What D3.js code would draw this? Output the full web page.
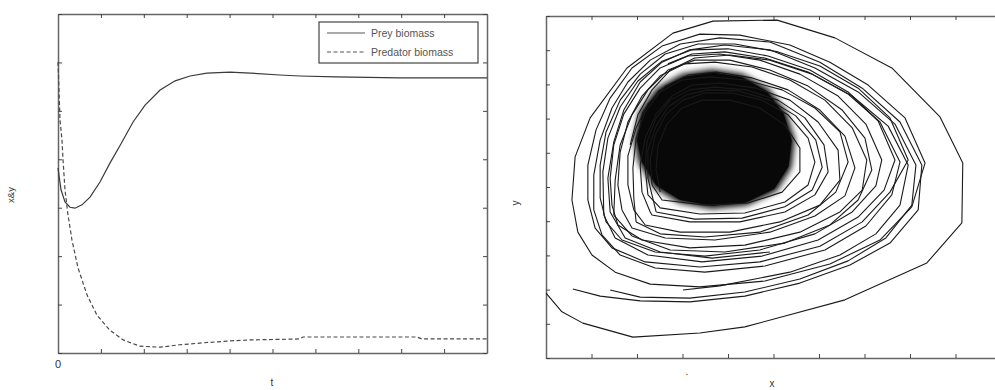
<!DOCTYPE html>
<html>
<head>
<meta charset="utf-8">
<script src="https://cdn.jsdelivr.net/npm/d3@7"></script>
<style>
  body { margin: 0; background: #fff; }
  svg { font-family: "Liberation Sans", Arial, sans-serif; }
  .frame path.domain { stroke: #666; stroke-width: 1.5; }
  .frame .tick line { stroke: #444; stroke-width: 1; }
</style>
</head>
<body>
<svg id="chart" width="995" height="390"></svg>
<script>
// ---- left panel: biomass over time ----
const preyT = [0, 0.7, 1.63, 2.8, 3.96, 5.59, 7.46, 9.79, 12.1, 14.5, 17.5, 20.3, 23.8, 27.3, 30.8, 34.7, 40.1, 44.8, 51.7, 56.4, 64.6, 79.7, 100];
const preyY = [3.82, 3.37, 3.12, 3.01, 2.99, 3.06, 3.22, 3.53, 3.92, 4.29, 4.77, 5.12, 5.43, 5.62, 5.72, 5.78, 5.80, 5.78, 5.74, 5.72, 5.70, 5.68, 5.68];
const predT = [0, 0.23, 0.47, 0.93, 1.17, 1.63, 2.33, 3.26, 4.66, 6.76, 9.09, 12.1, 15.2, 19.1, 23.8, 28.4, 33.8, 40.1, 44.8, 56.4, 57.1, 83.7, 84.8, 100];
const predY = [6.01, 5.43, 4.81, 4.40, 3.99, 3.37, 2.85, 2.33, 1.76, 1.20, 0.78, 0.47, 0.27, 0.14, 0.12, 0.17, 0.21, 0.25, 0.27, 0.29, 0.33, 0.33, 0.29, 0.29];
const legendLabels = ['Prey biomass', 'Predator biomass'];

// ---- right panel: phase portrait (x = prey, y = predator) ----
const loop1 = [[0,1.90],[0.35,1.35],[0.81,1.02],[1.91,0.61],[3.38,0.73],[4.37,0.91],[6.57,1.70],[8.37,2.78],[9.14,3.95],[9.16,5.70],[8.66,7.05],[7.60,8.48],[6.35,9.36],[5.08,9.88],[3.67,9.85],[2.79,9.50],[1.78,8.48],[0.97,7.02],[0.64,5.88],[0.57,4.62]];
const loop2 = [[0.57,4.62],[0.70,3.68],[1.01,3.01],[1.52,2.51],[2.29,2.16],[3.38,2.08],[4.81,2.25],[6.24,2.75],[7.34,3.45],[8.04,4.42],[8.33,5.70],[7.89,7.02],[7.08,7.98],[6.24,8.65],[5.36,9.15],[4.26,9.44],[3.38,9.47],[2.55,9.12],[1.89,8.48],[1.41,7.60],[1.10,6.67],[0.92,5.64],[0.92,4.62]];
const loop3 = [[0.92,4.62],[1.08,3.80],[1.45,3.22],[2.18,2.81],[3.38,2.66],[4.70,2.81],[6.02,3.27],[6.95,3.98],[7.56,4.85],[7.96,5.79],[7.56,7.02],[6.86,7.89],[6.02,8.54],[5.10,8.95],[4.15,9.18],[3.34,9.18],[2.62,8.89],[2.07,8.30],[1.63,7.54],[1.32,6.61],[1.19,5.64],[1.19,4.68]];
const loop3b = [[1.27,4.18],[1.52,3.51],[2.24,3.01],[3.43,2.81],[4.75,2.98],[5.98,3.45],[6.86,4.12],[7.43,4.91],[7.67,5.79],[7.30,6.93],[6.64,7.78],[5.80,8.42],[4.88,8.83],[4.00,9.04],[3.21,9.01],[2.55,8.68],[2.02,8.10],[1.63,7.34],[1.36,6.43],[1.25,5.44],[1.27,4.18]];
const loop4 = [[1.19,4.68],[1.32,3.98],[1.67,3.45],[2.40,3.10],[3.49,2.98],[4.70,3.16],[5.91,3.63],[6.73,4.27],[7.25,5.03],[7.38,5.79],[7.03,6.84],[6.42,7.66],[5.58,8.30],[4.70,8.71],[3.82,8.89],[3.12,8.83],[2.51,8.48],[2.07,7.89],[1.71,7.13],[1.49,6.23],[1.41,5.26],[1.45,4.47]];
const loop4b = [[1.49,4.18],[1.89,3.57],[2.73,3.16],[3.93,3.10],[5.25,3.36],[6.24,3.89],[6.86,4.62],[7.16,5.50],[7.01,6.43],[6.51,7.25],[5.76,7.95],[4.92,8.42],[4.04,8.71],[3.27,8.71],[2.68,8.42],[2.24,7.84],[1.89,7.11],[1.63,6.23],[1.52,5.20],[1.49,4.18]];
const loop5 = [[1.45,4.47],[1.58,3.89],[2.11,3.45],[3.16,3.22],[4.37,3.30],[5.58,3.68],[6.46,4.27],[6.95,4.91],[7.05,5.79],[6.73,6.73],[6.13,7.54],[5.36,8.13],[4.53,8.51],[3.71,8.65],[3.05,8.60],[2.51,8.25],[2.11,7.66],[1.80,6.90],[1.63,6.02],[1.58,5.06],[1.67,4.33]];
const loop6 = [[1.67,4.33],[1.89,3.80],[2.62,3.51],[3.71,3.45],[4.92,3.68],[5.91,4.15],[6.57,4.74],[6.79,5.56],[6.57,6.49],[6.02,7.25],[5.32,7.84],[4.53,8.19],[3.74,8.36],[3.12,8.27],[2.62,7.95],[2.24,7.43],[1.98,6.73],[1.80,5.91],[1.80,5.06],[1.93,4.33]];
const loop6b = [[1.98,3.98],[2.51,3.63],[3.49,3.54],[4.70,3.68],[5.76,4.18],[6.37,4.85],[6.64,5.73],[6.46,6.61],[5.91,7.31],[5.19,7.84],[4.37,8.13],[3.60,8.22],[2.99,8.13],[2.51,7.78],[2.18,7.19],[1.98,6.43],[1.91,5.56],[1.93,4.68],[1.98,3.98]];
const loop7 = [[1.93,4.33],[2.18,3.89],[2.95,3.68],[4.04,3.68],[5.14,3.98],[6.02,4.47],[6.46,5.20],[6.42,6.08],[5.98,6.90],[5.36,7.54],[4.62,7.89],[3.82,8.04],[3.21,7.98],[2.77,7.66],[2.42,7.13],[2.18,6.43],[2.07,5.64],[2.11,4.85],[2.29,4.27]];
const loop8 = [[2.29,4.27],[2.33,4.18],[3.16,3.98],[4.26,3.98],[5.25,4.27],[5.91,4.77],[6.20,5.44],[6.11,6.23],[5.69,7.02],[5.10,7.54],[4.40,7.84],[3.71,7.92],[3.16,7.84],[2.73,7.54],[2.42,7.02],[2.22,6.32],[2.18,5.56],[2.24,4.77]];
const loop8b = [[2.42,4.27],[3.27,4.06],[4.31,4.09],[5.25,4.42],[5.85,4.91],[6.07,5.58],[5.93,6.37],[5.49,7.08],[4.92,7.54],[4.22,7.81],[3.56,7.84],[3.08,7.69],[2.68,7.34],[2.42,6.78],[2.24,6.08],[2.24,5.26],[2.42,4.27]];
const loop9 = [[2.24,4.77],[2.51,4.39],[3.38,4.21],[4.37,4.24],[5.25,4.56],[5.76,5.06],[5.91,5.73],[5.76,6.43],[5.32,7.11],[4.75,7.54],[4.09,7.75],[3.49,7.75],[3.01,7.54],[2.64,7.13],[2.40,6.52],[2.29,5.79],[2.33,5.06]];
const loop10 = [[2.33,5.06],[2.55,4.62],[3.49,4.47],[4.44,4.53],[5.19,4.85],[5.58,5.44],[5.58,6.14],[5.25,6.81],[4.70,7.31],[4.04,7.54],[3.43,7.54],[2.99,7.31],[2.66,6.84],[2.46,6.20],[2.42,5.50],[2.51,4.85]];
const orbitB = [[0.59,2.02],[1.19,1.81],[2.07,1.67],[3.16,1.64],[4.37,1.81],[5.58,2.19],[6.68,2.72],[7.56,3.36],[8.18,4.33],[8.26,5.64],[7.78,6.90],[6.95,7.89],[6.02,8.65],[4.92,9.24],[3.82,9.36],[2.95,9.18],[2.29,8.71],[1.80,8.07],[1.45,7.31],[1.19,6.37],[1.05,5.35],[1.05,4.33],[1.23,3.60],[1.63,3.01],[2.40,2.63],[3.49,2.51],[4.81,2.69],[6.13,3.16],[7.03,3.86],[7.60,4.77],[7.78,5.73],[7.34,6.90],[6.64,7.72],[5.76,8.36],[4.81,8.77],[3.93,8.95],[3.21,8.89],[2.68,8.60]];
const orbitC = [[1.41,1.99],[2.07,1.78],[3.16,1.75],[4.37,1.93],[5.58,2.31],[6.64,2.84],[7.47,3.51],[8.04,4.47],[8.13,5.64],[7.67,6.84],[6.86,7.78],[5.91,8.48],[4.92,9.01],[3.93,9.15],[3.16,9.01],[2.55,8.65],[2.07,8.07],[1.71,7.25],[1.49,6.32],[1.36,5.26],[1.41,4.27],[1.74,3.51],[2.51,3.10],[3.65,2.92],[4.92,3.10]];
const orbitD = [[3.01,1.99],[3.82,2.11],[5.36,2.51],[6.46,3.01],[7.25,3.63],[7.78,4.47],[7.96,5.64],[7.52,6.78],[6.73,7.66],[5.85,8.30],[4.92,8.71],[4.04,8.86],[3.27,8.77],[2.73,8.42],[2.33,7.84],[2.02,7.11],[1.85,6.23]];
// region where the inner turns are so dense they read as solid black
const denseCore = [[2.00,6.37],[2.12,7.18],[2.48,7.82],[3.02,8.22],[3.65,8.35],[4.30,8.22],[4.85,7.80],[5.22,7.15],[5.40,6.37],[5.33,5.60],[5.02,4.95],[4.40,4.55],[3.65,4.45],[2.95,4.62],[2.42,5.05],[2.10,5.75]];

const svg = d3.select('#chart');
svg.append('defs').append('filter').attr('id', 'soft')
  .attr('x', '-20%').attr('y', '-20%').attr('width', '140%').attr('height', '140%')
  .append('feGaussianBlur').attr('stdDeviation', 3);

// scales
const xL = d3.scaleLinear().domain([0, 100]).range([58, 487]);
const yL = d3.scaleLinear().domain([0, 7]).range([353, 14]);
const xR = d3.scaleLinear().domain([0, 10]).range([546, 1001]);
const yR = d3.scaleLinear().domain([0, 10]).range([358, 16]);

function frame(x, y, xt, yt) {
  const g = svg.append('g').attr('class', 'frame');
  const [x0, x1] = x.range(), [y0, y1] = y.range();
  g.append('g').attr('transform', `translate(0,${y0})`)
    .call(d3.axisBottom(x).tickValues(xt).tickSizeInner(-4).tickSizeOuter(0).tickFormat(''));
  g.append('g').attr('transform', `translate(0,${y1})`)
    .call(d3.axisTop(x).tickValues(xt).tickSizeInner(-4).tickSizeOuter(0).tickFormat(''));
  g.append('g').attr('transform', `translate(${x0},0)`)
    .call(d3.axisLeft(y).tickValues(yt).tickSizeInner(-4).tickSizeOuter(0).tickFormat(''));
  g.append('g').attr('transform', `translate(${x1},0)`)
    .call(d3.axisRight(y).tickValues(yt).tickSizeInner(-4).tickSizeOuter(0).tickFormat(''));
  g.selectAll('text').remove();
}

frame(xL, yL, d3.range(0, 101, 10), d3.range(0, 8, 1));
frame(xR, yR, d3.range(0, 11, 1), d3.range(0, 11, 1));

// left lines
const lineL = d3.line().x(d => xL(d[0])).y(d => yL(d[1]));
svg.append('path')
  .attr('d', lineL(preyT.map((t, i) => [t, preyY[i]])))
  .attr('fill', 'none').attr('stroke', '#3a3a3a').attr('stroke-width', 1.2);
svg.append('path')
  .attr('d', lineL(predT.map((t, i) => [t, predY[i]])))
  .attr('fill', 'none').attr('stroke', '#4a4a4a').attr('stroke-width', 1.2)
  .attr('stroke-dasharray', '4,2.5');

// legend
const lg = svg.append('g');
lg.append('rect').attr('x', 319).attr('y', 22).attr('width', 159).attr('height', 41)
  .attr('fill', '#fff').attr('stroke', '#444').attr('stroke-width', 1.2);
legendLabels.forEach((lab, i) => {
  const yy = 33 + i * 19;
  lg.append('line').attr('x1', 327).attr('x2', 365).attr('y1', yy).attr('y2', yy)
    .attr('stroke', '#555').attr('stroke-width', 1.2)
    .attr('stroke-dasharray', i === 1 ? '4,2.5' : null);
  lg.append('text').attr('x', 371).attr('y', yy + 4).text(lab)
    .attr('font-size', 10.5).attr('fill', '#555');
});

// right lines
const lineR = d3.line().x(d => xR(d[0])).y(d => yR(d[1]));
svg.append('path')
  .attr('d', lineR(denseCore) + 'Z')
  .attr('fill', '#000').attr('stroke', '#000').attr('stroke-width', 6)
  .attr('filter', 'url(#soft)');
svg.append('path')
  .attr('d', lineR(denseCore) + 'Z')
  .attr('fill', '#080808').attr('stroke', 'none');
[loop1, loop2, loop3, loop3b, loop4, loop4b, loop5, loop6, loop6b, loop7, loop8, loop8b, loop9, loop10, orbitB, orbitC, orbitD].forEach(pts => {
  svg.append('path').attr('d', lineR(pts))
    .attr('fill', 'none').attr('stroke', '#1a1a1a').attr('stroke-width', 1.1)
    .attr('stroke-linejoin', 'round');
});

// labels
const lab = (x, y, s, rot, size) => svg.append('text')
  .attr('transform', `translate(${x},${y})` + (rot ? ' rotate(-90)' : ''))
  .attr('text-anchor', 'middle').attr('font-size', size || 10).attr('fill', '#333').text(s);
lab(58, 368, '0', false, 11);
lab(272, 386, 't', false, 10);
lab(14, 195, 'x&y', true, 9.5);
lab(519, 203, 'y', true, 10);
lab(772, 387, 'x', false, 10);
lab(687, 375, '.', false, 10);
</script>
</body>
</html>
